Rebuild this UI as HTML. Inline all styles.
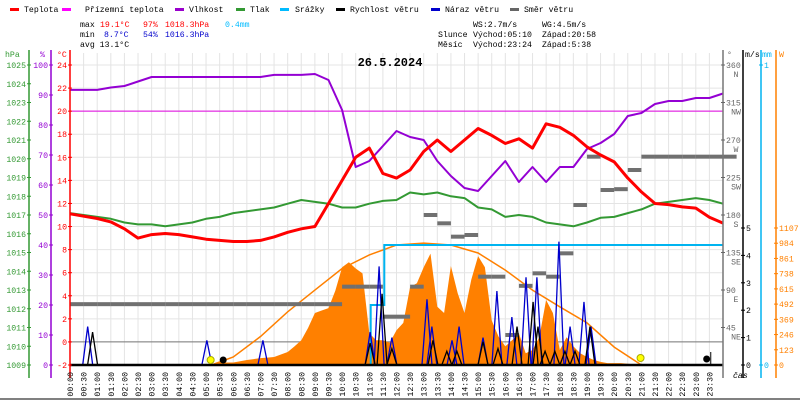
<!DOCTYPE html>
<html><head><meta charset="utf-8"><style>
html,body{margin:0;padding:0;background:#fff;}
svg{display:block;font-family:"Liberation Mono",monospace;font-size:8.2px;}
</style></head><body>
<svg id="chart" xmlns="http://www.w3.org/2000/svg" width="800" height="400" viewBox="0 0 800 400">
<rect x="0" y="0" width="800" height="400" fill="#fff"/>
<g>
 <rect x="10" y="8" width="9" height="3" fill="#f00"/><text x="24" y="12">Teplota</text>
 <rect x="62" y="8" width="9" height="3" fill="#f0f"/><text x="85" y="12">Přízemní teplota</text>
 <rect x="175" y="8" width="9" height="3" fill="#90c"/><text x="189" y="12">Vlhkost</text>
 <rect x="236" y="8" width="9" height="3" fill="#393"/><text x="250" y="12">Tlak</text>
 <rect x="280" y="8" width="9" height="3" fill="#0bf"/><text x="295" y="12">Srážky</text>
 <rect x="336" y="8" width="9" height="3" fill="#000"/><text x="350" y="12">Rychlost větru</text>
 <rect x="431" y="8" width="9" height="3" fill="#00c"/><text x="445" y="12">Náraz větru</text>
 <rect x="510" y="8" width="9" height="3" fill="#666"/><text x="524" y="12">Směr větru</text>
</g>
<g>
 <text x="80" y="27">max</text>
 <text x="100" y="27" fill="#f00">19.1°C</text>
 <text x="143" y="27" fill="#f00">97%</text>
 <text x="165" y="27" fill="#f00">1018.3hPa</text>
 <text x="225" y="27" fill="#0bf">0.4mm</text>
 <text x="80" y="37">min</text>
 <text x="104" y="37" fill="#00c">8.7°C</text>
 <text x="143" y="37" fill="#00c">54%</text>
 <text x="165" y="37" fill="#00c">1016.3hPa</text>
 <text x="80" y="47">avg 13.1°C</text>
 <text x="473" y="27">WS:2.7m/s</text>
 <text x="542" y="27">WG:4.5m/s</text>
 <text x="438" y="37">Slunce</text>
 <text x="473" y="37">Východ:05:10</text>
 <text x="542" y="37">Západ:20:58</text>
 <text x="438" y="47">Měsíc</text>
 <text x="473" y="47">Východ:23:24</text>
 <text x="542" y="47">Západ:5:38</text>
</g>
<g id="grid"></g>
<g id="series"></g>
<g id="axes"></g>
<text x="390" y="66" text-anchor="middle" font-family="Liberation Mono, monospace" font-weight="bold" font-size="12">26.5.2024</text>
</svg>
<script>
const halfHours = [0,0.5,1,1.5,2,2.5,3,3.5,4,4.5,5,5.5,6,6.5,7,7.5,8,8.5,9,9.5,10,10.5,11,11.5,12,12.5,13,13.5,14,14.5,15,15.5,16,16.5,17,17.5,18,18.5,19,19.5,20,20.5,21,21.5,22,22.5,23,23.5,24];
const temperature = [11.1,10.9,10.7,10.4,9.8,9.0,9.3,9.4,9.3,9.1,8.9,8.8,8.7,8.7,8.8,9.1,9.5,9.8,10.0,12.0,14.0,16.0,16.8,14.6,14.2,14.9,16.5,17.5,16.5,17.5,18.5,17.9,17.2,17.6,16.8,18.9,18.6,17.9,16.9,16.2,15.6,14.2,13.0,12.0,11.9,11.7,11.6,10.8,10.3];
const humidity = [91.7,91.7,91.7,92.5,93,94.5,96,96,96,96,96,96,96,96,96,96.7,96.7,96.7,97,95,85,66,68,73,78,76,75,68,63,59,58,63,68,61,66,61,66,66,72,74,77,83,84,87,88,88,89,89,90.5];
const pressure = [1017.1,1017.0,1016.9,1016.8,1016.6,1016.5,1016.5,1016.4,1016.5,1016.6,1016.8,1016.9,1017.1,1017.2,1017.3,1017.4,1017.6,1017.8,1017.7,1017.6,1017.4,1017.4,1017.6,1017.75,1017.8,1018.2,1018.1,1018.2,1018.0,1017.9,1017.4,1017.3,1016.9,1017.0,1016.9,1016.6,1016.5,1016.4,1016.6,1016.85,1016.9,1017.1,1017.3,1017.6,1017.7,1017.8,1017.9,1017.8,1017.6];
const windDir = [73,73,73,73,73,73,73,73,73,73,73,73,73,73,73,73,73,73,73,73,94,94,94,58,58,94,180,170,154,156,106,106,36,95,110,106,134,192,250,210,211,234,250,250,250,250,250,250,250];
const radiation = [0,0,0,0,0,0,0,0,0,0,0,0,0,0,0,0,0,0,0,0,0,0,20,20,20,30,40,48,56,60,65,85,105,150,200,300,420,440,460,600,790,830,780,740,258,200,200,180,280,340,630,660,790,900,470,420,800,580,420,690,880,790,360,230,150,200,255,95,120,225,525,420,120,225,150,95,65,40,25,15,15,15,10,5,0,0,0,0,0,0,0,0,0,0,0,0,0];
const clearSkyHours = [5.2,6,7,8,9,10,11,12,13,14,15,16,17,18,19,20,21];
const clearSky = [0,65,230,430,605,780,890,970,985,970,905,767,605,470,340,145,0];
const rainTimes = [11.05,11.55,24];
const rainTotals = [0.2,0.4,0.4];
const windPeakTimes = [0.83,11.03,11.47,11.83,13.34,13.85,14.22,15.18,15.73,16.43,17.02,17.2,17.46,17.82,18.19,18.56,19.11];
const windPeakValues = [1.2,0.8,2.6,0.6,0.9,0.5,0.5,0.85,0.6,1.4,2.3,1.4,0.5,0.5,0.5,0.5,1.4];
const gustPeakTimes = [0.65,5.03,7.09,11.03,11.36,11.83,13.12,13.3,14.04,14.3,15.18,15.69,16.24,16.76,17.16,17.97,18.38,18.89,19.15];
const gustPeakValues = [1.4,0.9,0.9,1.2,3.6,1.0,2.4,1.4,0.9,1.4,1.0,2.7,1.75,3.2,3.2,4.5,1.4,2.3,1.4];
const pressureTicks = [1025,1024,1023,1022,1021,1020,1019,1018,1017,1016,1015,1014,1013,1012,1011,1010,1009];
const humidityTicks = [100,90,80,70,60,50,40,30,20,10,0];
const tempTicks = [24,22,20,18,16,14,12,10,8,6,4,2,0,-2];
const dirTicks = [360,315,270,225,180,135,90,45];
const dirNames = ["N","NW","W","SW","S","SE","E","NE"];
const windTicks = [0,1,2,3,4,5];
const rainTicks = [0,1];
const radTicks = [0,123,246,369,492,615,738,861,984,1107];

const NS="http://www.w3.org/2000/svg";
const L=70,R=723,T0=65,B=365;
const X=t=>L+t*(R-L)/24;
const YT=v=>B-(v+2)*(B-T0)/26;
const YH=v=>B-v*(B-T0)/100;
const YP=v=>B-(v-1009)*(B-T0)/16;
const YD=v=>B-v*(B-T0)/360;
const YW=v=>B-v*137/5;
const YR=v=>B-v*137/1107;
const YM=v=>B-v*(B-T0);
function mk(parent,tag,attrs,txt){const e=document.createElementNS(NS,tag);for(const k in attrs)e.setAttribute(k,attrs[k]);if(txt!==undefined)e.textContent=txt;parent.appendChild(e);return e;}
const grid=document.getElementById('grid'),ser=document.getElementById('series'),ax=document.getElementById('axes');

for(let i=0;i<=48;i++){const x=X(i/2);
 const g=mk(grid,'line',{x1:x,x2:x,y1:T0-12,y2:B,stroke:'#e4e4e4','stroke-width':1});
 
 }
tempTicks.forEach(v=>{const y=YT(v);
 const g=mk(grid,'line',{x1:L,x2:R,y1:y,y2:y,stroke:'#e4e4e4','stroke-width':1});
 
 });
const zl=mk(grid,'line',{x1:L,x2:R,y1:YT(0),y2:YT(0),stroke:'#777','stroke-width':1});



let d='M'+X(0)+','+B;
radiation.forEach((v,i)=>{const t=i/4;d+=' L'+X(t).toFixed(1)+','+YR(v).toFixed(1);});
d+=' L'+X(24)+','+B+' Z';
const ra=mk(ser,'path',{d:d,fill:'#ff8000',stroke:'none'});


const cs=mk(ser,'polyline',{points:clearSkyHours.map((t,i)=>X(t).toFixed(1)+','+YR(clearSky[i]).toFixed(1)).join(' '),fill:'none',stroke:'#ff8000','stroke-width':1.5});



const gt=mk(ser,'line',{x1:L,x2:R,y1:YT(20),y2:YT(20),stroke:'#e000e0','stroke-width':1});



windDir.forEach((v,i)=>{const x=X(halfHours[i]),y=YD(v);
 const w=mk(ser,'rect',{x:x,y:y-2,width:(R-L)/48,height:4,fill:'#707070','stroke-dasharray':'3 1'});
 
 });

function line(vals,fy,color,sw){
 return mk(ser,'polyline',{points:vals.map((v,i)=>X(halfHours[i]).toFixed(1)+','+fy(v).toFixed(1)).join(' '),fill:'none',stroke:color,'stroke-width':sw,'stroke-linejoin':'round'});}
const pl=line(pressure,YP,'#339933',2);


const hl=line(humidity,YH,'#9400d3',2);


const tl=line(temperature,YT,'#ff0000',3);



let rp=X(0)+','+B+' '+X(rainTimes[0])+','+B;
rainTimes.forEach((t,i)=>{rp+=' '+X(t).toFixed(1)+','+YM(i?rainTotals[i-1]:0).toFixed(1)+' '+X(t).toFixed(1)+','+YM(rainTotals[i]).toFixed(1);});
const rl=mk(ser,'polyline',{points:rp,fill:'none',stroke:'#00b4f0','stroke-width':2});



function spikes(times,vals,color,name){const g=mk(ser,'g',{});
 times.forEach((t,i)=>{const x=X(t),y=YW(vals[i]);
  const s=mk(g,'polyline',{points:(x-5)+','+B+' '+(x-2)+','+(y+(B-y)*0.4)+' '+x+','+y+' '+(x+2)+','+(y+(B-y)*0.4)+' '+(x+5)+','+B,fill:'none',stroke:color,'stroke-width':1.3});
  
  });
 return g;}
const gg=spikes(gustPeakTimes,gustPeakValues,'#0000cc','gust-spike');


const wg=spikes(windPeakTimes,windPeakValues,'#000','wind-speed-spike');



const bl=mk(ax,'line',{x1:L,x2:R,y1:B,y2:B,stroke:'#000','stroke-width':2.5});



const m1=mk(ax,'circle',{cx:X(5.17),cy:360,r:3.5,fill:'#ff0',stroke:'#aa0'});


const m2=mk(ax,'circle',{cx:X(5.63),cy:360,r:3.5,fill:'#000'});


const m3=mk(ax,'circle',{cx:X(20.97),cy:358,r:3.5,fill:'#ff0',stroke:'#aa0'});


const m4=mk(ax,'circle',{cx:X(23.4),cy:359,r:3.5,fill:'#000'});


const m5=mk(ax,'line',{x1:X(23.55),x2:X(23.55),y1:352,y2:365,stroke:'#000'});



function vline(x,color,name){const l=mk(ax,'line',{x1:x,x2:x,y1:50,y2:378,stroke:color,'stroke-width':1.5});
 
 }
vline(29,'#339933','pressure-axis');vline(51,'#9400d3','humidity-axis');vline(70,'#f00','temperature-axis');
vline(723,'#777','direction-axis');vline(743,'#000','wind-axis');vline(761,'#00b4f0','rain-axis');vline(776,'#ff8000','radiation-axis');

function tick(x,y,color,label,anchor,lx,name){
 const t=mk(ax,'line',{x1:x-2,x2:x+2,y1:y,y2:y,stroke:color});
 
 
 const tx=mk(ax,'text',{x:lx,y:y+3,fill:color,'text-anchor':anchor},label);
 
 }
pressureTicks.forEach(v=>tick(29,YP(v),'#339933',String(v),'end',26,'pressure'));
humidityTicks.forEach(v=>tick(51,YH(v),'#9400d3',String(v),'end',48,'humidity'));
tempTicks.forEach(v=>tick(70,YT(v),'#f00',String(v),'end',67,'temperature'));
dirTicks.forEach((v,i)=>{tick(723,YD(v),'#666',String(v),'start',726,'direction');
 const n=mk(ax,'text',{x:736,y:YD(v)+12,fill:'#666','text-anchor':'middle'},dirNames[i]);
 
 });
windTicks.forEach(v=>tick(743,YW(v),'#000',String(v),'start',746,'wind'));
rainTicks.forEach(v=>tick(761,YM(v),'#00b4f0',String(v),'start',764,'rain'));
radTicks.forEach(v=>tick(776,YR(v),'#ff8000',String(v),'start',779,'radiation'));

[['hPa',5,'#339933'],['%',40,'#9400d3'],['°C',57,'#f00'],['°',727,'#666'],['m/s',745,'#000'],['mm',762,'#00b4f0'],['W',779,'#ff8000']].forEach(u=>{
 const e=mk(ax,'text',{x:u[1],y:57,fill:u[2]},u[0]);
 
 });
const cas=mk(ax,'text',{x:733,y:378,fill:'#000','font-style':'italic'},'čas');



for(let i=0;i<48;i++){const h=Math.floor(i/2),m=i%2?'30':'00';
 const lab=(h<10?'0':'')+h+':'+m;const x=X(i/2)+3;
 const e=mk(ax,'text',{x:0,y:0,'text-anchor':'end',transform:'translate('+x.toFixed(1)+',372) rotate(-90)'},lab);
 
 }
const tb=mk(ax,'line',{x1:0,x2:800,y1:399,y2:399,stroke:'#000'});


</script>
</body></html>
